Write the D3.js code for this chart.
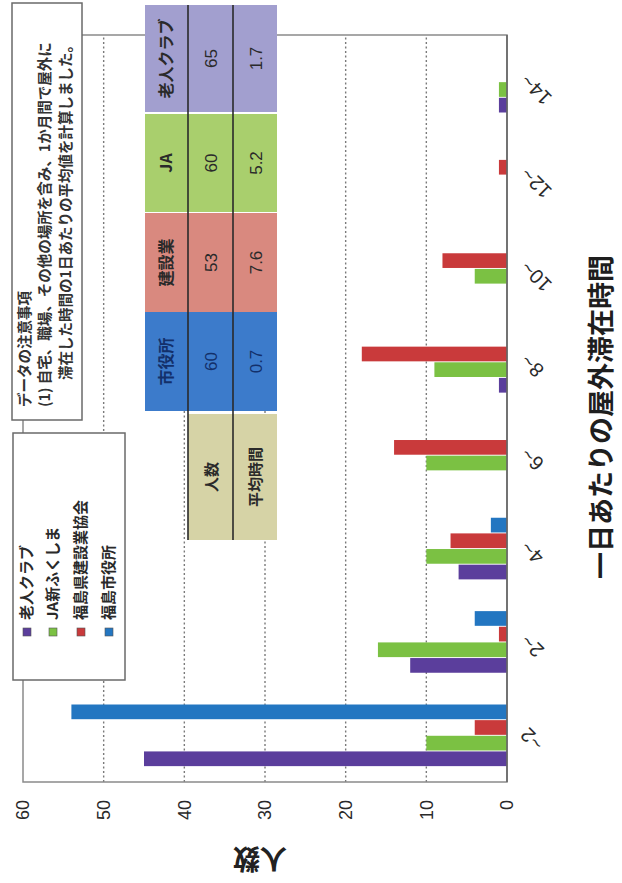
<!DOCTYPE html>
<html>
<head>
<meta charset="utf-8">
<script src="https://cdn.jsdelivr.net/npm/d3@7/dist/d3.min.js"></script>
<style>
  html, body { margin: 0; padding: 0; background: #ffffff; }
  svg { display: block; }
  text { font-family: "Liberation Sans", Arial, "Noto Sans CJK JP", sans-serif; }
  .jp { font-family: "Noto Sans CJK JP", "Noto Sans", sans-serif; }
</style>
</head>
<body>
<svg id="chart" width="622" height="883"></svg>
<script>
// Hours spent outdoors per day, by group (number of people per bin)
const categories = ["~2", "2~", "4~", "6~", "8~", "10~", "12~", "14~"];
const seriesNames = ["老人クラブ", "JA新ふくしま", "福島県建設業協会", "福島市役所"];
const seriesColors = ["#5b3e9c", "#7bc143", "#c93a3b", "#2376c1"];
const roujinClub = [45, 12, 6, 0, 1, 0, 0, 1];
const jaShinFukushima = [10, 16, 10, 10, 9, 4, 0, 1];
const kensetsuKyokai = [4, 1, 7, 14, 18, 8, 1, 0];
const shiyakusho = [54, 4, 2, 0, 0, 0, 0, 0];
const seriesValues = [roujinClub, jaShinFukushima, kensetsuKyokai, shiyakusho];
const yTicks = [0, 10, 20, 30, 40, 50, 60];

// Summary table
const tableGroups = ["市役所", "建設業", "JA", "老人クラブ"];
const tableColors = ["#3c7bcb", "#d9897f", "#a9cf6d", "#a29fcf"];
const tableRowLabels = ["人数", "平均時間"];
const tableCounts = ["60", "53", "60", "65"];
const tableAvgHours = ["0.7", "7.6", "5.2", "1.7"];

const noteLines = [
  "データの注意事項",
  "(1) 自宅、職場、その他の場所を含み、1か月間で屋外に",
  "滞在した時間の1日あたりの平均値を計算しました。"
];

// The page is laid out sideways: draw in a landscape frame and turn it.
const svg = d3.select("#chart");
const g = svg.append("g").attr("transform", `translate(0,${883}) rotate(-90)`);

const plot = { left: 101, right: 848, top: 23, bottom: 507 };

const x0 = d3.scaleBand().domain(categories)
  .range([plot.left, plot.right]).paddingInner(0.34).paddingOuter(0.17);
const x1 = d3.scaleBand().domain(d3.range(seriesNames.length))
  .range([0, x0.bandwidth()]).paddingInner(0.06);
const y = d3.scaleLinear().domain([0, 60]).range([plot.bottom, plot.top]);

// dotted gridlines
g.append("g").selectAll("line").data(yTicks.filter(d => d > 0 && d < 60)).join("line")
  .attr("x1", plot.left).attr("x2", plot.right)
  .attr("y1", d => y(d)).attr("y2", d => y(d))
  .attr("stroke", "#7a7a7a").attr("stroke-width", 1.4).attr("stroke-dasharray", "2,2.5");

// plot frame
g.append("rect").attr("x", plot.left).attr("y", plot.top)
  .attr("width", plot.right - plot.left).attr("height", plot.bottom - plot.top)
  .attr("fill", "none").attr("stroke", "#8a8a8a").attr("stroke-width", 1.5);

// bars
const groups = g.append("g").selectAll("g").data(categories).join("g")
  .attr("transform", d => `translate(${x0(d)},0)`);
groups.selectAll("rect")
  .data((c, ci) => seriesValues.map((vals, si) => ({ si, v: vals[ci] })))
  .join("rect")
  .attr("x", d => x1(d.si))
  .attr("width", x1.bandwidth())
  .attr("y", d => y(d.v))
  .attr("height", d => y(0) - y(d.v))
  .attr("fill", d => seriesColors[d.si]);

// value axis
const yAxis = g.append("g").attr("transform", `translate(${plot.left},0)`)
  .call(d3.axisLeft(y).tickValues(yTicks).tickSize(0).tickPadding(18));
yAxis.select(".domain").remove();
yAxis.selectAll("text").attr("font-size", 18).attr("fill", "#2a2a2a")
  .attr("font-family", "'Liberation Sans', Arial, sans-serif");

// baseline
g.append("line").attr("x1", plot.left).attr("x2", plot.right)
  .attr("y1", y(0)).attr("y2", y(0)).attr("stroke", "#666").attr("stroke-width", 1.6);

// category labels, slanted
g.append("g").selectAll("text").data(categories).join("text")
  .attr("transform", d => `translate(${x0(d) + x0.bandwidth() / 2 + 9},${plot.bottom + 22}) rotate(-45)`)
  .attr("text-anchor", "end")
  .attr("font-size", 20).attr("fill", "#2a2a2a")
  .text(d => d);

// axis title
g.append("text").attr("class", "jp")
  .attr("transform", `translate(34,260) rotate(-90)`)
  .attr("text-anchor", "middle").attr("font-size", 27).attr("font-weight", 700)
  .attr("fill", "#222").text("人数");

// chart title
g.append("text").attr("class", "jp")
  .attr("x", 466).attr("y", 611)
  .attr("text-anchor", "middle").attr("font-size", 27).attr("font-weight", 700)
  .attr("fill", "#1e1e1e").text("一日あたりの屋外滞在時間");

// legend
const leg = g.append("g");
leg.append("rect").attr("x", 203).attr("y", 13).attr("width", 247).attr("height", 112)
  .attr("fill", "#fff").attr("stroke", "#6a6a6a").attr("stroke-width", 1.5);
const legRows = [27, 53, 81, 109];
const li = leg.selectAll("g").data(seriesNames).join("g")
  .attr("transform", (d, i) => `translate(247,${legRows[i]})`);
li.append("rect").attr("x", 0).attr("y", -4).attr("width", 8).attr("height", 8)
  .attr("fill", (d, i) => seriesColors[i]).attr("stroke", "#555").attr("stroke-width", 0.6);
li.append("text").attr("class", "jp").attr("x", 16).attr("y", 5)
  .attr("font-size", 15).attr("font-weight", 700).attr("fill", "#2a2a2a").text(d => d);

// notes box
const notes = g.append("g");
notes.append("rect").attr("x", 463).attr("y", 12).attr("width", 417).attr("height", 70)
  .attr("fill", "#fff").attr("stroke", "#6a6a6a").attr("stroke-width", 1.5);
notes.selectAll("text").data(noteLines).join("text").attr("class", "jp")
  .attr("x", (d, i) => i === 2 ? 503 : 476)
  .attr("y", (d, i) => [30, 50, 71][i])
  .attr("font-size", 14.5).attr("font-weight", 700).attr("fill", "#333")
  .text(d => d);

// summary table
const tbl = g.append("g");
const colX = [472, 571, 671, 771];
const colW = [99, 99, 98, 107];
const rowY = { head: 145, r1: 188, r2: 233, end: 277 };
tbl.append("rect").attr("x", 343).attr("y", rowY.r1)
  .attr("width", 126).attr("height", rowY.end - rowY.r1).attr("fill", "#d6d3a6");
tbl.selectAll("rect.cell").data(tableGroups).join("rect").attr("class", "cell")
  .attr("x", (d, i) => colX[i]).attr("y", rowY.head)
  .attr("width", (d, i) => colW[i]).attr("height", rowY.end - rowY.head)
  .attr("fill", (d, i) => tableColors[i]);
[rowY.r1, rowY.r2].forEach(yy => {
  tbl.append("line").attr("x1", 343).attr("x2", 878).attr("y1", yy).attr("y2", yy)
    .attr("stroke", "#2a2a2a").attr("stroke-width", 1.6);
});
const txtFill = (i) => i === 0 ? "#13306a" : "#2a2a2a";
tbl.selectAll("text.head").data(tableGroups).join("text").attr("class", "jp")
  .attr("x", (d, i) => colX[i] + colW[i] / 2).attr("y", 172)
  .attr("text-anchor", "middle").attr("font-size", 16).attr("font-weight", 700)
  .attr("fill", (d, i) => txtFill(i)).text(d => d);
tbl.selectAll("text.cnt").data(tableCounts).join("text")
  .attr("x", (d, i) => colX[i] + colW[i] / 2).attr("y", 217)
  .attr("text-anchor", "middle").attr("font-size", 17)
  .attr("fill", (d, i) => txtFill(i)).text(d => d);
tbl.selectAll("text.avg").data(tableAvgHours).join("text")
  .attr("x", (d, i) => colX[i] + colW[i] / 2).attr("y", 262)
  .attr("text-anchor", "middle").attr("font-size", 17)
  .attr("fill", (d, i) => txtFill(i)).text(d => d);
tbl.selectAll("text.lab").data(tableRowLabels).join("text").attr("class", "jp")
  .attr("x", 406).attr("y", (d, i) => i === 0 ? 217 : 261)
  .attr("text-anchor", "middle").attr("font-size", 15).attr("font-weight", 700)
  .attr("fill", "#2a2a2a").text(d => d);
</script>
</body>
</html>
